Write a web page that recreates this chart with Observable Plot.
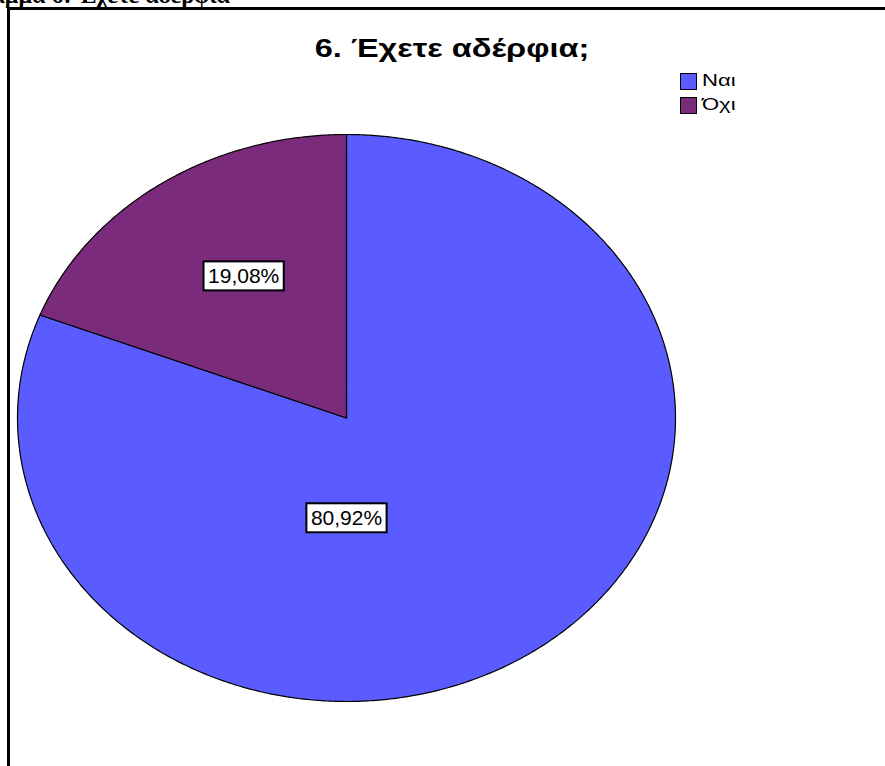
<!DOCTYPE html>
<html>
<head>
<meta charset="utf-8">
<script src="https://cdn.jsdelivr.net/npm/d3@7"></script>
<script src="https://cdn.jsdelivr.net/npm/@observablehq/plot@0.6"></script>
<style>
  html, body { margin: 0; padding: 0; background: #fff; width: 885px; height: 766px; overflow: hidden; position: relative; font-family: "Liberation Sans", Arial, sans-serif; }
  #caption { position: absolute; top: -17px; right: 655px; font-family: "Liberation Serif", "Times New Roman", serif; font-weight: bold; font-size: 24px; line-height: 24px; white-space: nowrap; color: #000; }
  #frame { position: absolute; left: 7px; top: 7px; width: 900px; height: 800px; border-left: 3px solid #000; border-top: 3px solid #000; }
  #title { position: absolute; left: 452px; top: 36px; font-weight: bold; font-size: 25px; line-height: 25px; white-space: nowrap; color: #000; transform: translateX(-50%) scaleX(1.3); }
  #legend { position: absolute; left: 680px; top: 69px; font-size: 17px; }
  .item { display: flex; align-items: center; height: 24px; }
  .sw { box-sizing: border-box; width: 17px; height: 17px; border: 1.5px solid #000; margin-right: 5px; }
  .item span { display: inline-block; transform: scaleX(1.3); transform-origin: left center; }
  #chart { position: absolute; left: 0; top: 0; }
</style>
</head>
<body>
<div id="caption">Διάγραμμα 6: Έχετε αδέρφια</div>
<div id="frame"></div>
<div id="title">6. Έχετε αδέρφια;</div>
<div id="legend"></div>
<div id="chart"></div>
<script>
const categories = ["Ναι", "Όχι"];
const percents = [80.92, 19.08];
const labels = ["80,92%", "19,08%"];
const colors = ["#5a5cff", "#7b2b7b"];

// label placement (angle in degrees clockwise from top, radius fraction)
const labelPlacement = {"Ναι": [180, 0.353], "Όχι": [328, 0.59]};

const arcs = d3.pie().sort(null).value(d => d)(percents);

const slices = arcs.map((a, i) => {
  const pts = [{x: 0, y: 0}];
  const n = Math.max(2, Math.ceil((a.endAngle - a.startAngle) / (Math.PI / 360)));
  for (let k = 0; k <= n; k++) {
    const t = a.startAngle + (a.endAngle - a.startAngle) * k / n;
    pts.push({x: Math.sin(t), y: -Math.cos(t)});
  }
  pts.push({x: 0, y: 0});
  return {cat: categories[i], color: colors[i], pts};
});

const labelData = categories.map((c, i) => {
  const [deg, r] = labelPlacement[c];
  const t = deg * Math.PI / 180;
  return {x: r * Math.sin(t), y: -r * Math.cos(t), text: labels[i]};
});

const plot = Plot.plot({
  width: 885,
  height: 766,
  margin: 0,
  x: {domain: [-1, 1], range: [17, 675], axis: null},
  y: {domain: [-1, 1], range: [134, 701], axis: null},
  style: {background: "transparent", overflow: "visible"},
  marks: [
    ...slices.map(s => Plot.line(s.pts, {x: "x", y: "y", fill: s.color, stroke: "#000", strokeWidth: 1.2, curve: "linear", strokeLinejoin: "round"})),
    Plot.text(labelData, {x: "x", y: "y", text: "text", fontSize: 21, fill: "#000", fontFamily: "Liberation Sans, Arial, sans-serif"})
  ]
});
document.getElementById("chart").appendChild(plot);

// white label boxes
const svgNS = "http://www.w3.org/2000/svg";
plot.querySelectorAll('g[aria-label="text"] text').forEach(t => {
  const b = t.getBBox();
  const r = document.createElementNS(svgNS, "rect");
  const px = 4.5, py = 3.5;
  r.setAttribute("x", b.x - px);
  r.setAttribute("y", b.y - py + 1);
  r.setAttribute("width", b.width + 2 * px);
  r.setAttribute("height", b.height + 2 * py - 1);
  r.setAttribute("fill", "#fff");
  r.setAttribute("stroke", "#000");
  r.setAttribute("stroke-width", 2);
  const tr = t.getAttribute("transform");
  if (tr) r.setAttribute("transform", tr);
  t.parentNode.insertBefore(r, t);
});

// legend
const lg = document.getElementById("legend");
categories.forEach((c, i) => {
  const it = document.createElement("div");
  it.className = "item";
  it.innerHTML = `<div class="sw" style="background:${colors[i]}"></div><span>${c}</span>`;
  lg.appendChild(it);
});
</script>
</body>
</html>
